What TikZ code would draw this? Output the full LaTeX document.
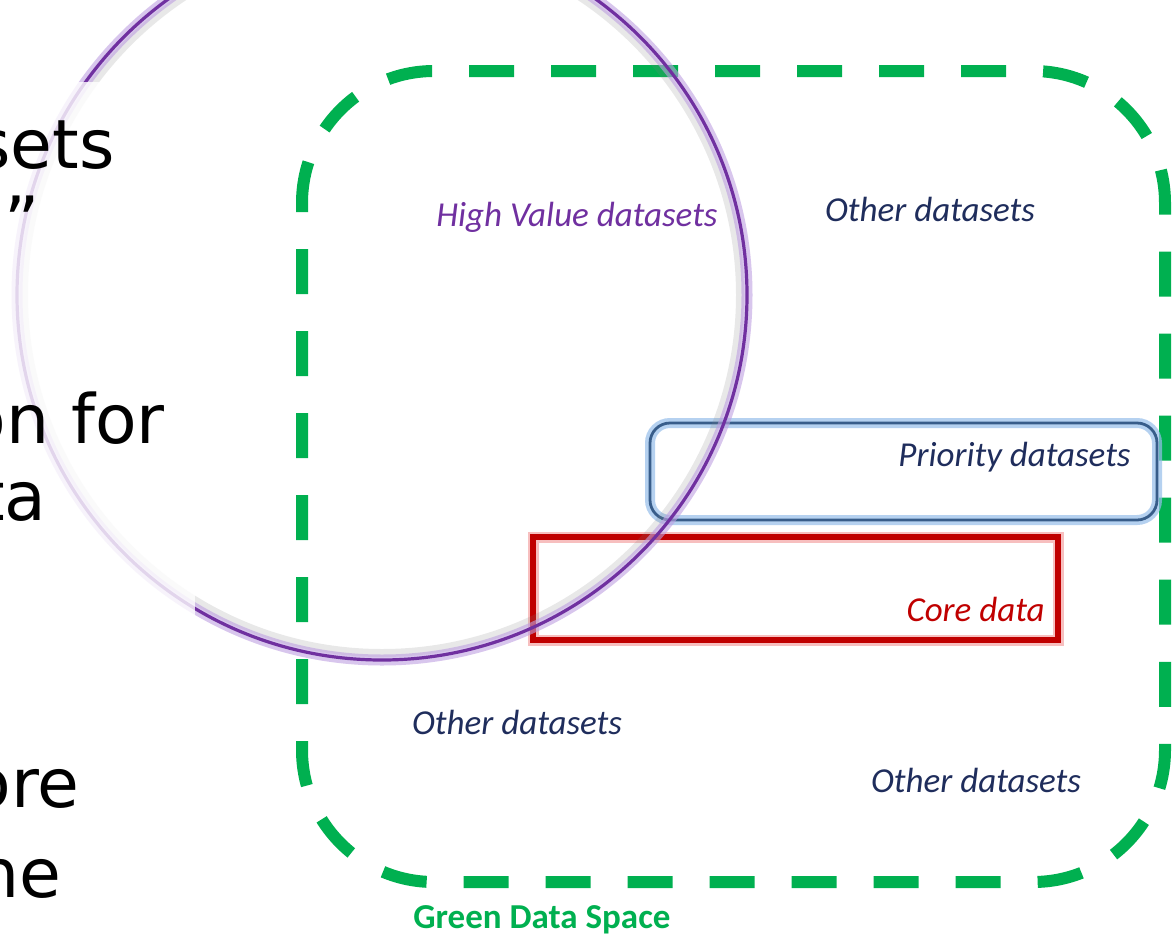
\documentclass[tikz,border=0pt]{standalone}
\usepackage{fontspec}
\setmainfont{Carlito}
\newfontfamily\djv{DejaVu Sans}
\definecolor{gds}{RGB}{0,176,80}
\definecolor{hvd}{RGB}{112,48,160}
\definecolor{hvdglow}{RGB}{190,160,225}
\definecolor{navy}{RGB}{31,45,92}
\definecolor{prio}{RGB}{56,93,138}
\definecolor{prioglow}{RGB}{150,190,235}
\definecolor{corered}{RGB}{192,0,0}
\definecolor{coreglow}{RGB}{245,165,165}
\tikzset{
  label/.style={inner sep=0pt, font=\fontsize{17.5}{21}\selectfont\itshape},
  slidetext/.style={inner sep=0pt, anchor=base east, font=\djv\fontsize{34}{40}\selectfont, text=black},
  greendash/.style={draw=gds, line width=6pt, dash pattern=on 22.5pt off 18.5pt, dash phase=18pt, rounded corners=66pt},
}
\begin{document}
\begin{tikzpicture}[x=0.5pt,y=-0.5pt]
\useasboundingbox (0,0) rectangle (1173,938);
\clip (0,0) rectangle (1173,938);
\fill[white] (0,0) rectangle (1173,938);

% Green Data Space (dashed rounded frame)
\draw[greendash] (302,71) rectangle (1165,882);

% Priority datasets box
\draw[prioglow, line width=5pt, opacity=0.7, rounded corners=10pt] (650,423) rectangle (1157,520);
\draw[prio, line width=1.4pt, rounded corners=10pt] (650,423) rectangle (1157,520);

% Core data box
\draw[coreglow, line width=5.5pt, opacity=0.7] (533,537) rectangle (1058,640);
\draw[corered, line width=2.6pt] (533,537) rectangle (1058,640);

% High value datasets circle
\draw[gray, line width=4pt, opacity=0.18] (382,295) circle[radius=358];
\draw[hvdglow, line width=5.5pt, opacity=0.6] (382,295) circle[radius=365];
\draw[hvd, line width=1.6pt] (382,295) circle[radius=365];

% faded left part of the slide
\fill[white, opacity=0.8] (0,82) rectangle (195,938);

% partial slide text on the left
\node[slidetext] (t1) at (115,168) {sets};
\node[slidetext, anchor=base west] (t2) at (4,245) {”};
\node[slidetext] (t3) at (165,443) {on for};
\node[slidetext] (t4) at (47,520) {ta};
\node[slidetext] (t5) at (80,807) {ore};
\node[slidetext] (t6) at (62,897) {ne};

% labels
\node[label, text=hvd] (hv) at (577,217) {High Value datasets};
\node[label, text=navy] (o1) at (930,209) {Other datasets};
\node[label, text=navy, anchor=east] (pr) at (1131,457) {Priority datasets};
\node[label, text=corered, anchor=east] (cd) at (1045,609) {Core data};
\node[label, text=navy] (o2) at (517,722) {Other datasets};
\node[label, text=navy] (o3) at (976,780) {Other datasets};
\node[inner sep=0pt, anchor=west, text=gds, font=\fontsize{17.5}{21}\selectfont\bfseries] (gs) at (413,920) {Green Data Space};
\end{tikzpicture}
\end{document}
